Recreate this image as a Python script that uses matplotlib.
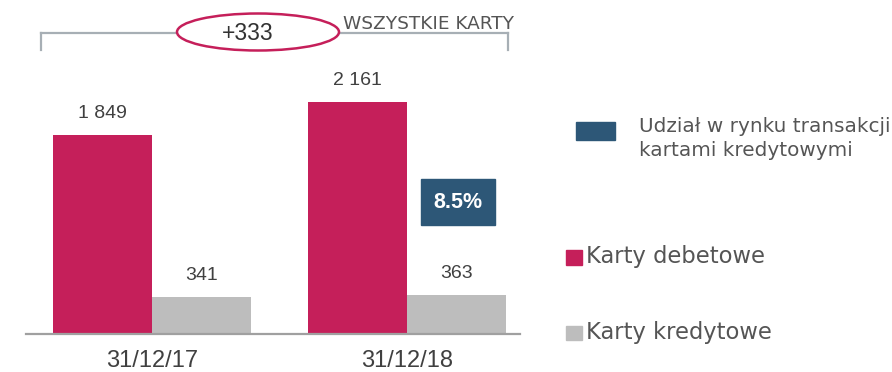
import matplotlib
matplotlib.use("Agg")
import matplotlib.pyplot as plt
from matplotlib.patches import Rectangle, Ellipse
from matplotlib.lines import Line2D

# Data
dates = ["31/12/17", "31/12/18"]
debit_cards = [1849, 2161]
credit_cards = [341, 363]
credit_share = "8.5%"
total_change = "+333"

series_labels = ["Karty debetowe", "Karty kredytowe"]
share_label = "Udział w rynku transakcji\nkartami kredytowymi"
total_label = "WSZYSTKIE KARTY"

RED = "#C51F5A"
GREY = "#BDBDBD"
BLUE = "#2D5777"
AXIS = "#A0A0A0"
NUM = "#404040"
LEG = "#555555"

W, H = 892, 372
fig = plt.figure(figsize=(W / 100, H / 100), dpi=100)


def fx(x):
    return x / W


def fy(y):
    return 1 - y / H


# Plot area in pixel coordinates
left, right, top, base = 26, 520, 10, 334
ax = fig.add_axes([fx(left), fy(base), (right - left) / W, (base - top) / H])
ax.set_xlim(-0.496, 1.443)
ax.set_ylim(0, 3017)

width = 0.389
xs = list(range(len(dates)))
ax.bar([x - width / 2 for x in xs], debit_cards, width, color=RED, zorder=2)
ax.bar([x + width / 2 for x in xs], credit_cards, width, color=GREY, zorder=2)

num_font = dict(family="Liberation Sans", color=NUM, fontsize=14)
for x, v in zip(xs, debit_cards):
    ax.annotate(f"{v:,}".replace(",", " "), (x - width / 2, v), xytext=(0, 15.5),
                textcoords="offset points", ha="center", va="center", **num_font)
for x, v in zip(xs, credit_cards):
    ax.annotate(f"{v:,}".replace(",", " "), (x + width / 2, v), xytext=(0, 15.5),
                textcoords="offset points", ha="center", va="center", **num_font)

for s in ["top", "right", "left"]:
    ax.spines[s].set_visible(False)
ax.spines["bottom"].set_color(AXIS)
ax.spines["bottom"].set_linewidth(1.6)
ax.set_yticks([])
ax.set_xticks(xs)
ax.set_xticklabels(dates, family="Liberation Sans", fontsize=17, color=NUM)
ax.tick_params(axis="x", length=0, pad=11.5)

# Share callout box
fig.patches.append(Rectangle((fx(421), fy(225)), (495 - 421) / W, (225 - 179) / H,
                             transform=fig.transFigure, color=BLUE, zorder=3))
fig.text(fx(458), fy(202.5), credit_share, ha="center", va="center", color="white",
         fontsize=15.5, fontweight="bold", family="Liberation Sans", zorder=4)

# Bracket spanning both groups
bracket_c = "#A7AFB5"
fig.add_artist(Line2D([fx(40.7), fx(508)], [fy(33), fy(33)], transform=fig.transFigure,
                      color=bracket_c, lw=1.6))
fig.add_artist(Line2D([fx(40.7), fx(40.7)], [fy(33), fy(49.5)], transform=fig.transFigure,
                      color=bracket_c, lw=1.6))
fig.add_artist(Line2D([fx(508), fx(508)], [fy(33), fy(49.5)], transform=fig.transFigure,
                      color=bracket_c, lw=1.6))
fig.add_artist(Ellipse((fx(258), fy(32)), (339 - 177) / W, 37 / H, transform=fig.transFigure,
                       facecolor="white", edgecolor=RED, lw=1.8, zorder=5))
fig.text(fx(248), fy(34), total_change, ha="center", va="center", color="#333333",
         fontsize=16.5, family="Liberation Sans", zorder=6)
fig.text(fx(343), fy(29), total_label, ha="left", va="baseline", color=LEG,
         fontsize=13.3, family="DejaVu Sans")

# Legend
fig.patches.append(Rectangle((fx(576), fy(140)), 39 / W, 18 / H,
                             transform=fig.transFigure, color=BLUE))
fig.text(fx(639), fy(138.5), share_label, ha="left", va="center", color=LEG,
         fontsize=14.4, family="DejaVu Sans", linespacing=1.27)
fig.patches.append(Rectangle((fx(566), fy(264.5)), 15.5 / W, 14.5 / H,
                             transform=fig.transFigure, color=RED))
fig.text(fx(586), fy(257), series_labels[0], ha="left", va="center", color=LEG,
         fontsize=16.3, family="DejaVu Sans")
fig.patches.append(Rectangle((fx(566), fy(340)), 15.5 / W, 14.5 / H,
                             transform=fig.transFigure, color=GREY))
fig.text(fx(586), fy(332), series_labels[1], ha="left", va="center", color=LEG,
         fontsize=16.3, family="DejaVu Sans")

fig.savefig("out.png", dpi=100, facecolor="white")
